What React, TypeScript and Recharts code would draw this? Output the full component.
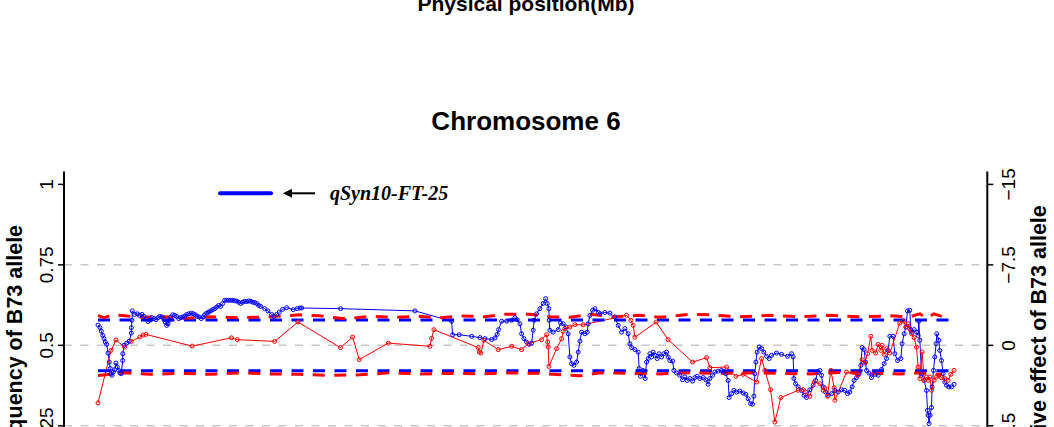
import { ComposedChart, Line, XAxis, YAxis, ReferenceLine } from 'recharts';

// physical position (Mb) and B73 allele frequency
const blueMb = [
  0.0, 0.4, 0.66, 0.94, 1.2, 1.46, 1.74, 2.0, 2.26, 2.46,
  2.66, 2.8, 3.06, 3.34, 3.6, 3.86, 4.14, 4.4, 4.66, 4.94,
  4.96, 5.2, 5.74, 6.26, 6.66, 6.68, 6.8, 6.86, 7.34, 7.86,
  8.34, 8.8, 9.2, 9.6, 10.0, 10.4, 10.8, 11.2, 11.6, 12.0,
  12.4, 12.8, 13.2, 13.46, 13.74, 14.0, 14.26, 14.54, 14.94, 15.34,
  15.74, 16.14, 16.54, 16.94, 17.34, 17.74, 18.14, 18.66, 19.06, 19.46,
  19.86, 20.26, 20.66, 21.06, 21.34, 21.74, 22.14, 22.54, 22.94, 23.34,
  23.74, 24.14, 24.54, 24.94, 25.34, 25.74, 26.14, 26.54, 26.94, 27.34,
  27.74, 28.14, 28.54, 28.94, 29.34, 29.74, 30.14, 30.54, 30.94, 31.34,
  31.74, 32.14, 32.54, 33.34, 34.0, 34.74, 35.2, 35.74, 36.26, 36.94,
  37.74, 39.06, 39.86, 40.4, 40.74, 48.54, 63.4, 70.74, 70.94, 72.26,
  74.74, 76.4, 77.4, 78.74, 79.4, 79.86, 80.14, 80.74, 81.74, 82.74,
  83.4, 83.86, 84.4, 84.74, 85.2, 85.74, 86.26, 86.74, 87.06, 87.26,
  87.74, 88.4, 89.06, 89.54, 89.86, 90.2, 90.26, 90.4, 91.06, 92.06,
  92.54, 93.06, 93.6, 94.06, 94.4, 94.74, 95.2, 95.74, 96.06, 96.4,
  96.74, 97.4, 97.86, 98.06, 98.4, 98.94, 99.4, 100.06, 100.4, 101.4,
  102.4, 103.4, 104.06, 104.74, 105.4, 106.06, 106.4, 106.74, 107.4, 108.06,
  108.26, 108.54, 109.06, 109.46, 109.74, 110.06, 110.4, 110.74, 111.06, 111.4,
  111.86, 112.26, 112.74, 113.2, 113.74, 114.06, 114.4, 114.94, 115.2, 115.74,
  116.4, 116.94, 117.4, 117.86, 118.4, 118.94, 119.4, 119.86, 120.4, 121.06,
  121.6, 122.06, 122.4, 122.94, 123.4, 124.06, 124.74, 125.2, 125.6, 126.06,
  126.26, 126.74, 127.2, 127.74, 128.4, 129.06, 129.6, 130.06, 130.54, 130.94,
  131.2, 131.4, 131.6, 131.86, 132.26, 132.74, 133.2, 133.74, 134.26, 134.74,
  135.74, 136.74, 137.94, 138.74, 139.06, 139.2, 139.54, 140.06, 140.74, 141.26,
  141.74, 142.4, 143.06, 143.54, 143.94, 144.4, 144.74, 145.06, 145.54, 146.06,
  146.74, 147.4, 148.06, 148.74, 149.4, 149.94, 150.4, 150.86, 151.26, 151.74,
  152.2, 152.6, 152.86, 153.26, 153.54, 153.74, 154.2, 154.74, 155.4, 156.06,
  156.74, 157.26, 157.74, 158.06, 158.4, 159.06, 159.4, 159.94, 160.6, 160.86,
  161.26, 161.6, 161.94, 162.4, 162.6, 162.86, 163.26, 163.74, 164.06, 164.2,
  164.4, 164.74, 165.26, 165.74, 165.94, 166.06, 166.26, 166.46, 166.74, 166.86,
  167.14, 167.4, 167.66, 167.8, 168.2, 168.4, 168.74, 169.06, 169.4, 169.74,
  170.2, 170.74, 171.26,
];
const blueFreq = [
  0.563, 0.555, 0.544, 0.531, 0.521, 0.51, 0.503, 0.476, 0.448, 0.428,
  0.412, 0.407, 0.417, 0.425, 0.445, 0.433, 0.422, 0.414, 0.412, 0.453,
  0.474, 0.5, 0.507, 0.513, 0.538, 0.555, 0.578, 0.607, 0.596, 0.598,
  0.593, 0.596, 0.59, 0.583, 0.574, 0.578, 0.586, 0.583, 0.58, 0.586,
  0.59, 0.588, 0.58, 0.572, 0.562, 0.567, 0.578, 0.588, 0.595, 0.593,
  0.59, 0.583, 0.586, 0.588, 0.59, 0.596, 0.598, 0.6, 0.598, 0.595,
  0.59, 0.588, 0.583, 0.588, 0.595, 0.6, 0.603, 0.607, 0.611, 0.614,
  0.619, 0.624, 0.621, 0.63, 0.64, 0.64, 0.64, 0.64, 0.64, 0.638,
  0.638, 0.634, 0.63, 0.634, 0.637, 0.636, 0.638, 0.637, 0.634, 0.633,
  0.63, 0.624, 0.621, 0.614, 0.607, 0.596, 0.59, 0.596, 0.603, 0.612,
  0.617, 0.611, 0.614, 0.616, 0.616, 0.614, 0.607, 0.575, 0.533, 0.533,
  0.528, 0.524, 0.521, 0.518, 0.523, 0.534, 0.549, 0.575, 0.575, 0.578,
  0.586, 0.58, 0.567, 0.536, 0.521, 0.51, 0.503, 0.507, 0.547, 0.578,
  0.598, 0.614, 0.63, 0.645, 0.63, 0.614, 0.578, 0.547, 0.541, 0.549,
  0.569, 0.567, 0.557, 0.536, 0.464, 0.443, 0.438, 0.448, 0.479, 0.513,
  0.541, 0.536, 0.541, 0.567, 0.593, 0.609, 0.614, 0.603, 0.598, 0.602,
  0.6, 0.588, 0.562, 0.541, 0.552, 0.536, 0.505, 0.493, 0.487, 0.479,
  0.428, 0.404, 0.422, 0.397, 0.448, 0.459, 0.474, 0.464, 0.479, 0.469,
  0.459, 0.474, 0.464, 0.474, 0.479, 0.464, 0.453, 0.451, 0.422, 0.414,
  0.407, 0.393, 0.402, 0.391, 0.397, 0.389, 0.4, 0.404, 0.397, 0.4,
  0.393, 0.379, 0.397, 0.407, 0.417, 0.42, 0.422, 0.417, 0.412, 0.391,
  0.338, 0.35, 0.36, 0.355, 0.358, 0.352, 0.348, 0.334, 0.319, 0.317,
  0.342, 0.412, 0.448, 0.479, 0.495, 0.49, 0.479, 0.466, 0.459, 0.469,
  0.476, 0.472, 0.466, 0.474, 0.464, 0.397, 0.381, 0.371, 0.36, 0.345,
  0.338, 0.362, 0.376, 0.391, 0.417, 0.422, 0.407, 0.371, 0.355, 0.345,
  0.35, 0.36, 0.355, 0.362, 0.36, 0.35, 0.355, 0.371, 0.391, 0.4,
  0.412, 0.438, 0.493, 0.487, 0.448, 0.422, 0.414, 0.4, 0.41, 0.407,
  0.425, 0.443, 0.459, 0.484, 0.528, 0.528, 0.474, 0.453, 0.459, 0.505,
  0.536, 0.557, 0.607, 0.609, 0.547, 0.541, 0.549, 0.541, 0.531, 0.575,
  0.516, 0.412, 0.391, 0.36, 0.298, 0.283, 0.257, 0.283, 0.307, 0.371,
  0.422, 0.464, 0.505, 0.536, 0.516, 0.484, 0.453, 0.412, 0.386, 0.376,
  0.371, 0.371, 0.379,
];

// additive effect of the B73 allele (right axis)
const redMb = [
  0.0, 2.62, 3.6, 5.3, 6.66, 8.36, 9.04, 9.6, 18.84, 26.7,
  27.86, 35.34, 40.0, 48.5, 50.94, 52.26, 58.06, 66.4, 66.74, 67.2,
  76.06, 76.26, 76.6, 77.2, 80.06, 82.74, 84.74, 86.06, 88.74, 89.74,
  89.94, 90.06, 90.2, 91.74, 92.74, 93.06, 93.4, 94.4, 95.4, 97.06,
  105.74, 106.6, 107.06, 107.4, 111.66, 114.06, 118.94, 121.74, 122.4, 125.74,
  127.6, 129.06, 131.74, 132.74, 133.4, 134.54, 135.4, 136.6, 140.06, 141.06,
  141.54, 142.4, 143.26, 144.4, 145.06, 145.4, 145.94, 146.6, 147.26, 147.4,
  149.74, 152.06, 152.86, 153.4, 153.94, 154.6, 154.86, 155.54, 156.06, 156.6,
  156.86, 157.26, 157.74, 158.4, 160.4, 161.06, 161.74, 162.06, 162.4, 162.74,
  163.26, 163.74, 164.06, 164.4, 164.86, 165.26, 165.74, 166.06, 166.4, 166.74,
  167.26, 167.74, 168.2, 168.74, 169.4, 170.06, 170.6, 171.26,
];
const redEffect = [
  5.36, 0.47, -0.5, 0.16, -0.37, -0.77, -0.96, -1.02, 0.07, -0.7,
  -0.53, -0.37, -2.17, 0.21, -0.77, 1.33, -0.21, 0.09, -0.65, -1.46,
  0.21, 0.62, 0.72, -0.47, 0.4, 0.09, 0.4, -0.16, -0.53, -1.0,
  -0.31, 0.16, 1.96, 0.31, -0.62, -1.3, -1.56, -1.71, -1.93, -1.91,
  -2.8, -2.33, -1.86, -0.75, -2.17, -0.53, 1.56, 1.15, 2.08, 2.02,
  2.89, 2.7, 3.42, 1.24, 2.33, 4.13, 7.15, 4.87, 4.19, 4.13,
  4.35, 4.75, 3.42, 3.57, 4.19, 3.98, 4.75, 2.33, 3.94, 5.12,
  2.49, 2.8, 1.33, 1.65, 0.77, -0.84, 0.47, 0.72, -0.09, 0.47,
  0.0, 0.84, 0.31, 0.72, -2.08, -2.26, -1.71, -2.02, -1.56, -1.09,
  -0.72, 0.16, 2.02, 3.1, 0.62, 3.26, 2.95, 3.26, 2.95, 4.19,
  3.26, 2.95, 2.8, 3.01, 3.1, 3.26, 2.7, 2.33,
];

// significance thresholds
const blueThrMb = [0, 171.4];
const blueUpper = [0.579, 0.579];
const blueLower = [0.421, 0.421];

const redUpperMb = [
  0, 1.2, 2.8, 5.4, 8.4, 13.4, 17.4, 22.4, 28.4, 34.4,
  40.4, 44.4, 49.4, 54.4, 59.4, 64.4, 68.4, 72.4, 77.4, 81.4,
  86.4, 90.4, 94.4, 98.4, 103.4, 108.4, 112.4, 118.4, 122.4, 128.4,
  134.4, 140.4, 146.4, 152.4, 158.4, 162.4, 164.4, 165.8, 167.2, 168.8,
];
const redUpper = [
  -2.8, -2.56, -2.84, -2.75, -2.61, -2.66, -2.52, -2.66, -2.56, -2.66,
  -2.84, -2.75, -2.47, -2.7, -2.61, -2.7, -2.56, -2.75, -2.66, -2.89,
  -2.89, -2.66, -2.61, -2.89, -2.66, -2.8, -2.61, -2.89, -2.84, -2.66,
  -2.8, -2.66, -2.8, -2.66, -2.75, -2.66, -2.94, -2.52, -2.94, -2.7,
];
const redLowerMb = [
  0, 2.4, 5.4, 10.4, 16.4, 22.4, 28.4, 34.4, 40.4, 46.4,
  52.4, 58.4, 64.4, 70.4, 76.4, 82.4, 88.4, 93.4, 96.4, 100.4,
  106.4, 112.4, 118.4, 124.4, 130.4, 136.4, 142.4, 148.4, 154.4, 160.4,
  164.4, 168.8,
];
const redLower = [
  2.8, 2.7, 2.56, 2.7, 2.61, 2.7, 2.56, 2.66, 2.7, 2.8,
  2.75, 2.56, 2.66, 2.61, 2.66, 2.56, 2.61, 2.75, 2.84, 2.56,
  2.61, 2.66, 2.56, 2.61, 2.56, 2.61, 2.66, 2.52, 2.61, 2.66,
  2.56, 2.7,
];

const freqTicks = [0, 0.25, 0.5, 0.75, 1];
const effectTicks = [-15, -7.5, 0, 7.5, 15];
const gridLevels = [0.25, 0.5, 0.75];

const zip = (xs: number[], ys: number[]) => xs.map((x, i) => ({ x, y: ys[i] }));

const SANS = '"Liberation Sans", Arial, Helvetica, sans-serif';
const BLUE = '#0000ff';
const RED = '#ff0000';

function fmtEffect(v: number) {
  return v < 0 ? `\u2212${Math.abs(v)}` : `${v}`;
}

function LeftTick(props: any) {
  const { x, y, payload } = props;
  const bx = x - 5;
  return (
    <text x={bx} y={y} transform={`rotate(-90, ${bx}, ${y})`} textAnchor="middle" fontFamily={SANS} fontSize={19} fill="#000">
      {String(payload.value)}
    </text>
  );
}

function RightTick(props: any) {
  const { x, y, payload } = props;
  const bx = x + 22;
  return (
    <text x={bx} y={y} transform={`rotate(-90, ${bx}, ${y})`} textAnchor="middle" fontFamily={SANS} fontSize={19} fill="#000">
      {fmtEffect(payload.value)}
    </text>
  );
}

export default function App() {
  const blue = zip(blueMb, blueFreq);
  const red = zip(redMb, redEffect);
  const xDomain = [-6.8, 177.9];

  return (
    <div style={{ position: 'absolute', left: 0, top: 0, width: 1054, height: 427, overflow: 'hidden', background: '#fff' }}>
      <ComposedChart width={1054} height={560} margin={{ top: 171.5, right: 0, bottom: 40.8, left: 0 }}>
        <XAxis xAxisId="b" type="number" dataKey="x" domain={xDomain} allowDataOverflow hide />
        <XAxis
          xAxisId="t"
          orientation="top"
          type="number"
          dataKey="x"
          domain={xDomain}
          allowDataOverflow
          height={0}
          tick={false}
          tickLine={false}
          axisLine={{ stroke: '#000', strokeWidth: 2 }}
        />
        <YAxis
          yAxisId="left"
          type="number"
          domain={[-0.04, 1.04]}
          ticks={freqTicks}
          allowDataOverflow
          width={64}
          tickSize={6}
          tickMargin={0}
          tick={<LeftTick />}
          tickLine={{ stroke: '#000', strokeWidth: 1.5 }}
          axisLine={{ stroke: '#000', strokeWidth: 2 }}
        />
        <YAxis
          yAxisId="right"
          orientation="right"
          type="number"
          domain={[-16.2, 16.2]}
          reversed
          ticks={effectTicks}
          allowDataOverflow
          width={66.7}
          tickSize={6}
          tickMargin={0}
          tick={<RightTick />}
          tickLine={{ stroke: '#000', strokeWidth: 1.5 }}
          axisLine={{ stroke: '#000', strokeWidth: 2 }}
        />
        {gridLevels.map((g) => (
          <ReferenceLine
            key={g}
            xAxisId="b"
            yAxisId="left"
            y={g}
            stroke="#c8c8c8"
            strokeWidth={1.5}
            strokeDasharray="8 8.5"
          />
        ))}
        <Line
          xAxisId="b"
          yAxisId="left"
          data={blue}
          dataKey="y"
          type="linear"
          stroke={BLUE}
          strokeWidth={1}
          dot={{ r: 2, fill: 'none', stroke: BLUE, strokeWidth: 1 }}
          activeDot={false}
          isAnimationActive={false}
        />
        <Line
          xAxisId="b"
          yAxisId="right"
          data={red}
          dataKey="y"
          type="linear"
          stroke={RED}
          strokeWidth={1}
          dot={{ r: 2, fill: 'none', stroke: RED, strokeWidth: 1 }}
          activeDot={false}
          isAnimationActive={false}
        />
        <Line xAxisId="b" yAxisId="left" data={zip(blueThrMb, blueUpper)} dataKey="y" stroke={BLUE} strokeWidth={3} strokeDasharray="12 9.5" dot={false} activeDot={false} isAnimationActive={false} />
        <Line xAxisId="b" yAxisId="left" data={zip(blueThrMb, blueLower)} dataKey="y" stroke={BLUE} strokeWidth={3} strokeDasharray="12 9.5" dot={false} activeDot={false} isAnimationActive={false} />
        <Line xAxisId="b" yAxisId="right" data={zip(redUpperMb, redUpper)} dataKey="y" stroke={RED} strokeWidth={3} strokeDasharray="12 9.5" dot={false} activeDot={false} isAnimationActive={false} />
        <Line xAxisId="b" yAxisId="right" data={zip(redLowerMb, redLower)} dataKey="y" stroke={RED} strokeWidth={3} strokeDasharray="12 9.5" dot={false} activeDot={false} isAnimationActive={false} />
      </ComposedChart>

      <svg width={1054} height={427} style={{ position: 'absolute', left: 0, top: 0, pointerEvents: 'none' }}>
        <text x={526} y={11} textAnchor="middle" fontFamily={SANS} fontWeight="bold" fontSize={21}>
          Physical position(Mb)
        </text>
        <text x={526} y={130} textAnchor="middle" fontFamily={SANS} fontWeight="bold" fontSize={26}>
          Chromosome 6
        </text>
        <text x={22} y={345} transform="rotate(-90, 22, 345)" textAnchor="middle" fontFamily={SANS} fontWeight="bold" fontSize={21.5}>
          Frequency of B73 allele
        </text>
        <text x={1046} y={345} transform="rotate(-90, 1046, 345)" textAnchor="middle" fontFamily={SANS} fontWeight="bold" fontSize={21.5}>
          Additive effect of B73 allele
        </text>
        <line x1={220} y1={193.3} x2={271} y2={193.3} stroke={BLUE} strokeWidth={4} strokeLinecap="round" />
        <line x1={289} y1={193.3} x2={315} y2={193.3} stroke="#000" strokeWidth={2} />
        <polygon points="283,193.3 292,188.8 292,197.8" fill="#000" />
        <text x={330} y={200} fontFamily='"Liberation Serif", "Times New Roman", serif' fontStyle="italic" fontWeight="bold" fontSize={20}>
          qSyn10-FT-25
        </text>
      </svg>
    </div>
  );
}
